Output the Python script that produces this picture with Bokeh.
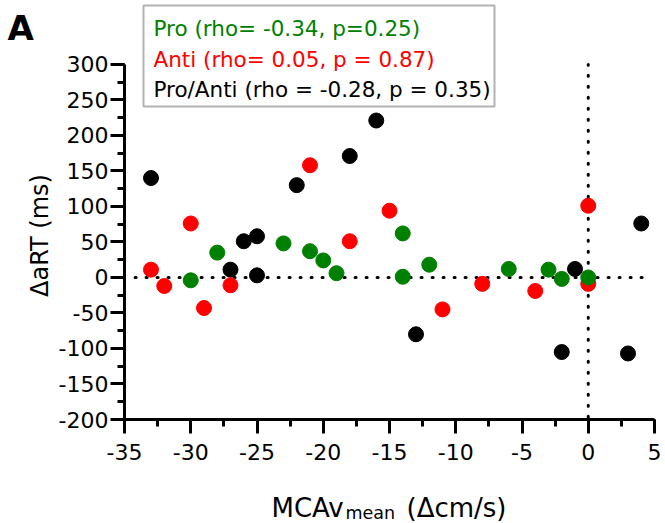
import math
from bokeh.plotting import figure
from bokeh.layouts import column, row
from bokeh.models import Range1d, SingleIntervalTicker, Label, BoxAnnotation, NumeralTickFormatter
from bokeh.embed import file_html
from bokeh.resources import INLINE

# ---- data ----
pro_x = [-28, -30, -23, -21, -20, -19, -14, -14, -12, -6, -3, -2, 0]
pro_y = [35, -4, 48, 37, 24, 6, 62, 1, 18, 12, 11, -2, 0]
anti_x = [-33, -32, -30, -29, -27, -21, -18, -15, -11, -8, -4, 0, 0]
anti_y = [11, -12, 76, -43, -11, 158, 51, 94, -45, -9, -19, 101, -9]
proanti_x = [-33, -27, -26, -25, -25, -22, -18, -16, -13, -2, -1, 3, 4]
proanti_y = [140, 11, 51, 58, 3, 130, 171, 221, -80, -105, 12, -107, 76]

legend_texts = ["Pro (rho= -0.34, p=0.25)",
                "Anti (rho= 0.05, p = 0.87)",
                "Pro/Anti (rho = -0.28, p = 0.35)"]
legend_colors = ["#008000", "#ff0000", "#000000"]

x_limits = (-35, 5)
y_axis_limits = (-200, 300)
y_view_top = 390          # headroom above the axis for the legend box
hline_x = [-34.2, 4.3]
hline_y = [0, 0]
vline_x = [0, 0]
vline_y = [-197, 300]

FONT = "DejaVu Sans"


def bare(fig):
    fig.outline_line_color = None
    fig.grid.visible = False
    fig.background_fill_color = "white"
    fig.border_fill_color = "white"


# ---------------- left strip: panel letter + y title ----------------
L = figure(width=55, height=470, output_backend="svg", toolbar_location=None,
           title=None, x_axis_location=None, y_axis_location=None,
           x_range=Range1d(0, 1), y_range=Range1d(0, 1),
           min_border_left=0, min_border_right=0, min_border_top=0, min_border_bottom=0)
bare(L)
L.add_layout(Label(x=7, y=392, x_units="screen", y_units="screen", text="A",
                   text_font=FONT, text_font_size="34px", text_font_style="bold",
                   text_color="black", text_baseline="alphabetic", text_align="left"))
L.add_layout(Label(x=39, y=184, x_units="screen", y_units="screen", text="ΔaRT (ms)",
                   angle=math.pi / 2, text_font=FONT, text_font_size="24px",
                   text_color="black", text_baseline="middle", text_align="center"))

# ---------------- main plot ----------------
p = figure(width=610, height=470, output_backend="svg", toolbar_location=None,
           title=None,
           x_range=Range1d(*x_limits), y_range=Range1d(y_axis_limits[0], y_view_top),
           min_border_left=68, min_border_right=11, min_border_top=0,
           min_border_bottom=51)
bare(p)

p.xaxis.ticker = SingleIntervalTicker(interval=5, num_minor_ticks=2)
p.yaxis.ticker = SingleIntervalTicker(interval=50, num_minor_ticks=2)
p.yaxis.bounds = y_axis_limits
for ax in (p.xaxis, p.yaxis):
    ax.formatter = NumeralTickFormatter(format="0")
    ax.axis_line_width = 3
    ax.axis_line_color = "black"
    ax.major_tick_line_width = 3
    ax.minor_tick_line_width = 3
    ax.major_tick_line_color = "black"
    ax.minor_tick_line_color = "black"
    ax.major_tick_out = 14
    ax.major_tick_in = 0
    ax.minor_tick_out = 7
    ax.minor_tick_in = 0
    ax.major_label_text_font = FONT
    ax.major_label_text_font_size = "22px"
    ax.major_label_text_color = "black"
p.xaxis.major_label_standoff = 10
p.yaxis.major_label_standoff = 2

# reference dotted lines
p.line(hline_x, hline_y, line_color="black", line_width=3, line_dash="1 10", line_cap="round")
p.line(vline_x, vline_y, line_color="black", line_width=3, line_dash="1 10", line_cap="round")

# points
p.scatter(proanti_x, proanti_y, size=15, color="#000000")
p.scatter(anti_x, anti_y, size=15, color="#ff0000")
p.scatter(pro_x, pro_y, size=15, color="#008000")

# legend box and texts (inside the frame)
p.add_layout(BoxAnnotation(left=19, right=370, top=414, bottom=313,
                           left_units="screen", right_units="screen",
                           top_units="screen", bottom_units="screen",
                           fill_color=None, fill_alpha=0,
                           line_color="black", line_width=2))
for i, (txt, c) in enumerate(zip(legend_texts, legend_colors)):
    p.add_layout(Label(x=29, y=391 - 30.5 * i, x_units="screen", y_units="screen",
                       text=txt, text_color=c, text_font=FONT, text_font_size="21.5px",
                       text_baseline="middle", text_align="left"))

# ---------------- x-axis title strip ----------------
T = figure(width=665, height=53, output_backend="svg", toolbar_location=None,
           title=None, x_axis_location=None, y_axis_location=None,
           x_range=Range1d(0, 1), y_range=Range1d(0, 1),
           min_border_left=0, min_border_right=0, min_border_top=0, min_border_bottom=0)
bare(T)
T.add_layout(Label(x=271, y=16, x_units="screen", y_units="screen", text="MCAv",
                   text_font=FONT, text_font_size="26px", text_color="black",
                   text_baseline="alphabetic", text_align="left"))
T.add_layout(Label(x=345, y=11, x_units="screen", y_units="screen", text="mean",
                   text_font=FONT, text_font_size="17.5px", text_color="black",
                   text_baseline="alphabetic", text_align="left"))
T.add_layout(Label(x=406, y=16, x_units="screen", y_units="screen", text="(Δcm/s)",
                   text_font=FONT, text_font_size="26px", text_color="black",
                   text_baseline="alphabetic", text_align="left"))

layout = column(row(L, p, spacing=0), T, spacing=0)
open("out.html", "w").write(file_html(layout, INLINE))
